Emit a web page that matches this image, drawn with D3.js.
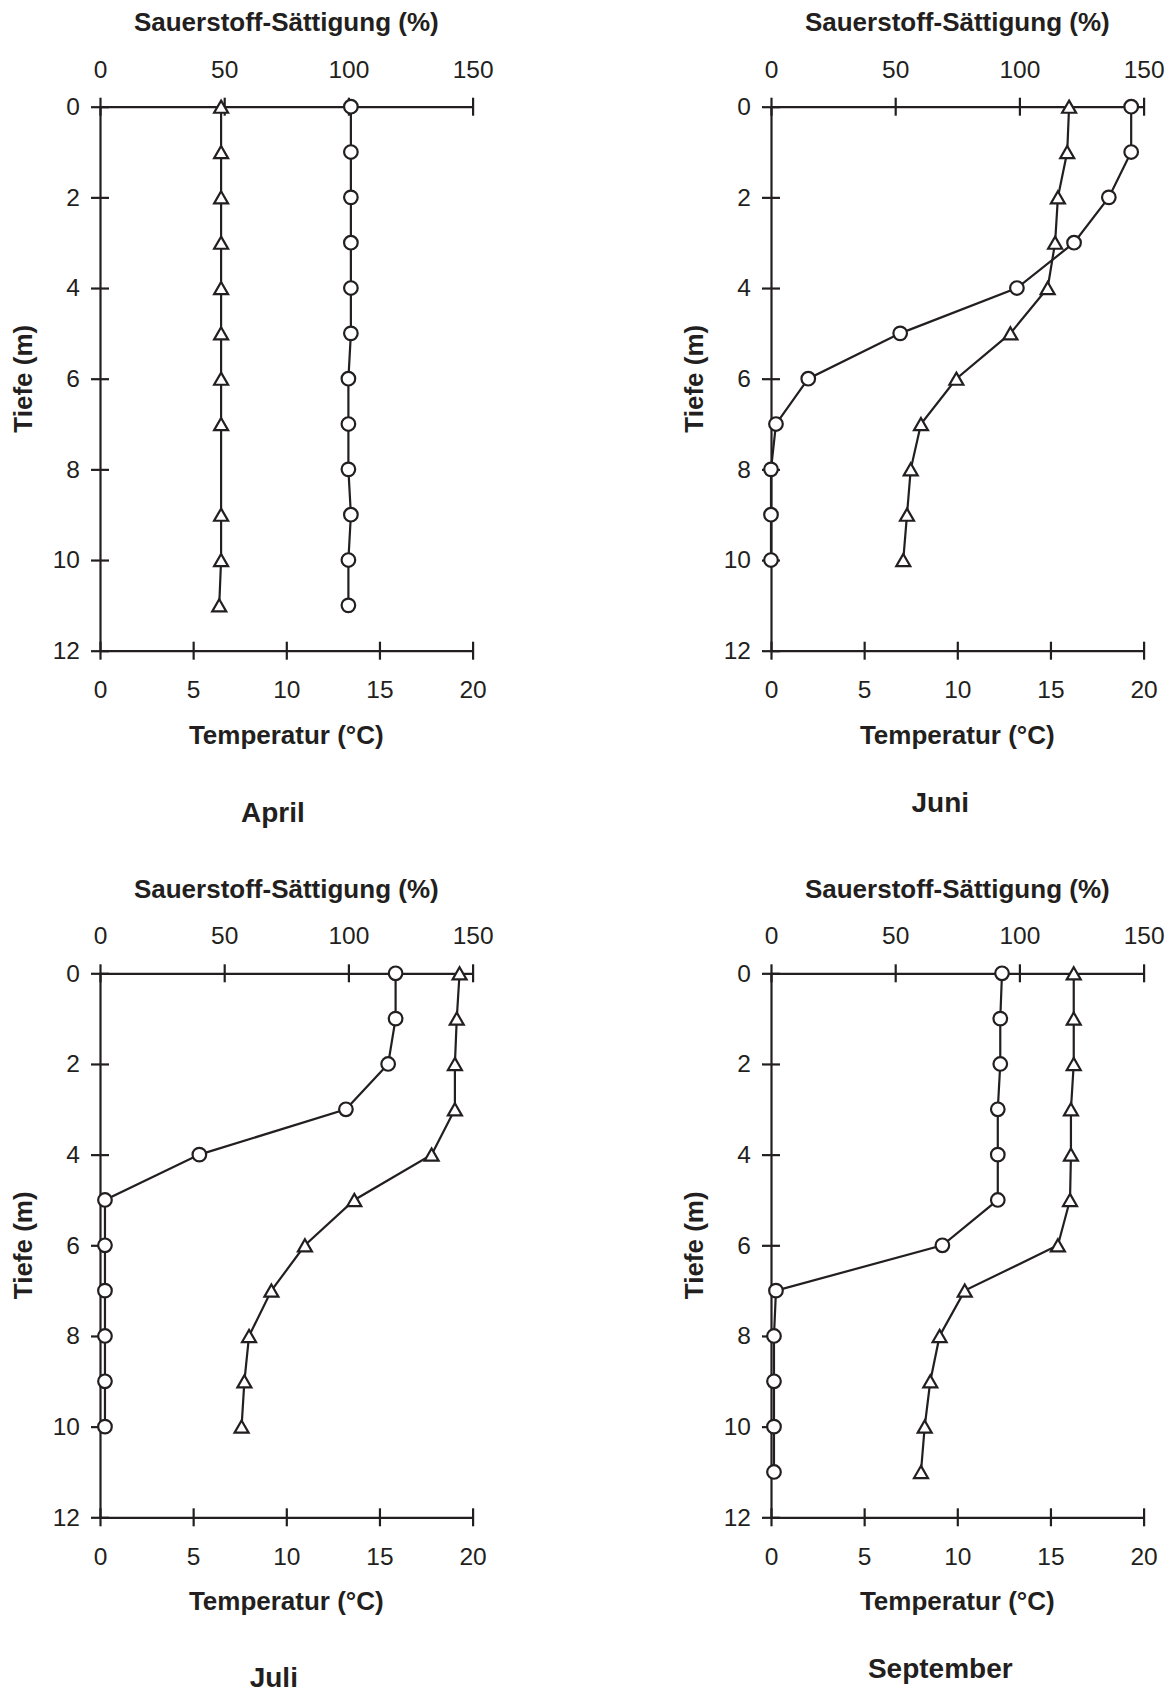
<!DOCTYPE html>
<html lang="de">
<head>
<meta charset="utf-8">
<title>Tiefenprofile: Temperatur und Sauerstoff-Sättigung</title>
<script src="https://cdn.jsdelivr.net/npm/d3@7"></script>
<style>
  html, body { margin: 0; padding: 0; background: #fff; }
  svg { display: block; }
  text { font-family: "Liberation Sans", Arial, Helvetica, sans-serif; fill: #231f20; }
</style>
</head>
<body>
<svg id="chart" width="1176" height="1693"></svg>
<script>
// ---- Data -------------------------------------------------------------
const months = ["April", "Juni", "Juli", "September"];

const depthTicks = [0, 2, 4, 6, 8, 10, 12];
const oxygenTicks = [0, 50, 100, 150];
const temperatureTicks = [0, 5, 10, 15, 20];

// April
const aprilTempDepth = [0, 1, 2, 3, 4, 5, 6, 7, 9, 10, 11];
const aprilTemp      = [6.5, 6.5, 6.5, 6.5, 6.5, 6.5, 6.5, 6.5, 6.5, 6.5, 6.4];
const aprilOxyDepth  = [0, 1, 2, 3, 4, 5, 6, 7, 8, 9, 10, 11];
const aprilOxy       = [101, 101, 101, 101, 101, 101, 100, 100, 100, 101, 100, 100];

// Juni
const juniTempDepth = [0, 1, 2, 3, 4, 5, 6, 7, 8, 9, 10];
const juniTemp      = [16.0, 15.9, 15.4, 15.25, 14.85, 12.85, 9.95, 8.05, 7.5, 7.3, 7.1];
const juniOxyDepth  = [0, 1, 2, 3, 4, 5, 6, 7, 8, 9, 10];
const juniOxy       = [145, 145, 136, 122, 99, 52, 15, 2, 0, 0, 0];

// Juli
const juliTempDepth = [0, 1, 2, 3, 4, 5, 6, 7, 8, 9, 10];
const juliTemp      = [19.3, 19.15, 19.05, 19.05, 17.8, 13.65, 11.0, 9.2, 8.0, 7.75, 7.6];
const juliOxyDepth  = [0, 1, 2, 3, 4, 5, 6, 7, 8, 9, 10];
const juliOxy       = [119, 119, 116, 99, 40, 2, 2, 2, 2, 2, 2];

// September
const septTempDepth = [0, 1, 2, 3, 4, 5, 6, 7, 8, 9, 10, 11];
const septTemp      = [16.25, 16.25, 16.25, 16.1, 16.1, 16.05, 15.4, 10.4, 9.05, 8.55, 8.25, 8.05];
const septOxyDepth  = [0, 1, 2, 3, 4, 5, 6, 7, 8, 9, 10, 11];
const septOxy       = [93, 92.3, 92.3, 91.3, 91.3, 91.3, 69, 2, 1.2, 1.2, 1.2, 1.2];

const panelData = [
  { month: months[0], tDepth: aprilTempDepth, temp: aprilTemp, oDepth: aprilOxyDepth, oxy: aprilOxy },
  { month: months[1], tDepth: juniTempDepth,  temp: juniTemp,  oDepth: juniOxyDepth,  oxy: juniOxy },
  { month: months[2], tDepth: juliTempDepth,  temp: juliTemp,  oDepth: juliOxyDepth,  oxy: juliOxy },
  { month: months[3], tDepth: septTempDepth,  temp: septTemp,  oDepth: septOxyDepth,  oxy: septOxy }
];

// ---- Layout -----------------------------------------------------------
const ink = "#231f20";
const plotW = 372.6, plotH = 544;
const panelPos = [
  { x: 100, y: 106.7, monthDx: -13.5, monthDy: 171 },
  { x: 771, y: 106.7, monthDx: -17,   monthDy: 161.6 },
  { x: 100, y: 973.3, monthDx: -12.5, monthDy: 170 },
  { x: 771, y: 973.3, monthDx: -17,   monthDy: 161 }
];
const tick = 9;
const lineW = 2.2;

const svg = d3.select("#chart");

const xOxy = d3.scaleLinear().domain([0, 150]).range([0, plotW]);
const xTemp = d3.scaleLinear().domain([0, 20]).range([0, plotW]);
const yDepth = d3.scaleLinear().domain([0, 12]).range([0, plotH]);

// triangle centred on its bounding box
const triSide = 14, triH = triSide * Math.sqrt(3) / 2;
const trianglePath = `M0,${-triH / 2}L${triSide / 2},${triH / 2}L${-triSide / 2},${triH / 2}Z`;

function styleAxis(g) {
  g.attr("font-size", null).attr("font-family", null);
  g.select(".domain").attr("stroke", ink).attr("stroke-width", lineW);
  g.selectAll(".tick line").attr("stroke", ink).attr("stroke-width", lineW);
  g.selectAll(".tick text")
    .attr("fill", ink)
    .style("font-family", '"Liberation Sans", Arial, Helvetica, sans-serif')
    .style("font-size", "24.5px");
}

panelData.forEach((d, i) => {
  const p = panelPos[i];
  const g = svg.append("g").attr("transform", `translate(${p.x},${p.y})`);

  // depth axis (left), ticks crossing the line
  const yAx = g.append("g")
    .call(d3.axisLeft(yDepth).tickValues(depthTicks).tickSizeInner(tick).tickSizeOuter(0).tickPadding(11).tickFormat(d3.format("d")));
  yAx.selectAll(".tick line").attr("x1", tick);
  styleAxis(yAx);

  // oxygen saturation axis (top)
  const xTop = g.append("g")
    .call(d3.axisTop(xOxy).tickValues(oxygenTicks).tickSizeInner(tick).tickSizeOuter(0).tickPadding(20).tickFormat(d3.format("d")));
  xTop.selectAll(".tick line").attr("y1", tick);
  styleAxis(xTop);

  // temperature axis (bottom)
  const xBot = g.append("g").attr("transform", `translate(0,${plotH})`)
    .call(d3.axisBottom(xTemp).tickValues(temperatureTicks).tickSizeInner(tick).tickSizeOuter(0).tickPadding(21).tickFormat(d3.format("d")));
  xBot.selectAll(".tick line").attr("y1", -tick);
  styleAxis(xBot);

  // axis titles
  g.append("text")
    .attr("x", plotW / 2).attr("y", -75.5)
    .attr("text-anchor", "middle")
    .style("font-size", "26px").style("font-weight", "bold")
    .text("Sauerstoff-Sättigung (%)");

  g.append("text")
    .attr("x", plotW / 2).attr("y", plotH + 93)
    .attr("text-anchor", "middle")
    .style("font-size", "26px").style("font-weight", "bold")
    .text("Temperatur (°C)");

  g.append("text")
    .attr("transform", `translate(-68,${plotH / 2}) rotate(-90)`)
    .attr("text-anchor", "middle")
    .style("font-size", "26px").style("font-weight", "bold")
    .text("Tiefe (m)");

  g.append("text")
    .attr("x", plotW / 2 + p.monthDx).attr("y", plotH + p.monthDy)
    .attr("text-anchor", "middle")
    .style("font-size", "28px").style("font-weight", "bold")
    .text(d.month);

  // profiles: temperature (triangles) and oxygen saturation (circles)
  const tempPts = d.temp.map((v, k) => [xTemp(v), yDepth(d.tDepth[k])]);
  const oxyPts = d.oxy.map((v, k) => [xOxy(v), yDepth(d.oDepth[k])]);
  const line = d3.line();

  g.append("path").attr("d", line(tempPts))
    .attr("fill", "none").attr("stroke", ink).attr("stroke-width", lineW);
  g.append("path").attr("d", line(oxyPts))
    .attr("fill", "none").attr("stroke", ink).attr("stroke-width", lineW);

  g.selectAll(null).data(tempPts).join("path")
    .attr("d", trianglePath)
    .attr("transform", q => `translate(${q[0]},${q[1]})`)
    .attr("fill", "#fff").attr("stroke", ink).attr("stroke-width", lineW);

  g.selectAll(null).data(oxyPts).join("circle")
    .attr("cx", q => q[0]).attr("cy", q => q[1]).attr("r", 6.8)
    .attr("fill", "#fff").attr("stroke", ink).attr("stroke-width", lineW);
});
</script>
</body>
</html>
